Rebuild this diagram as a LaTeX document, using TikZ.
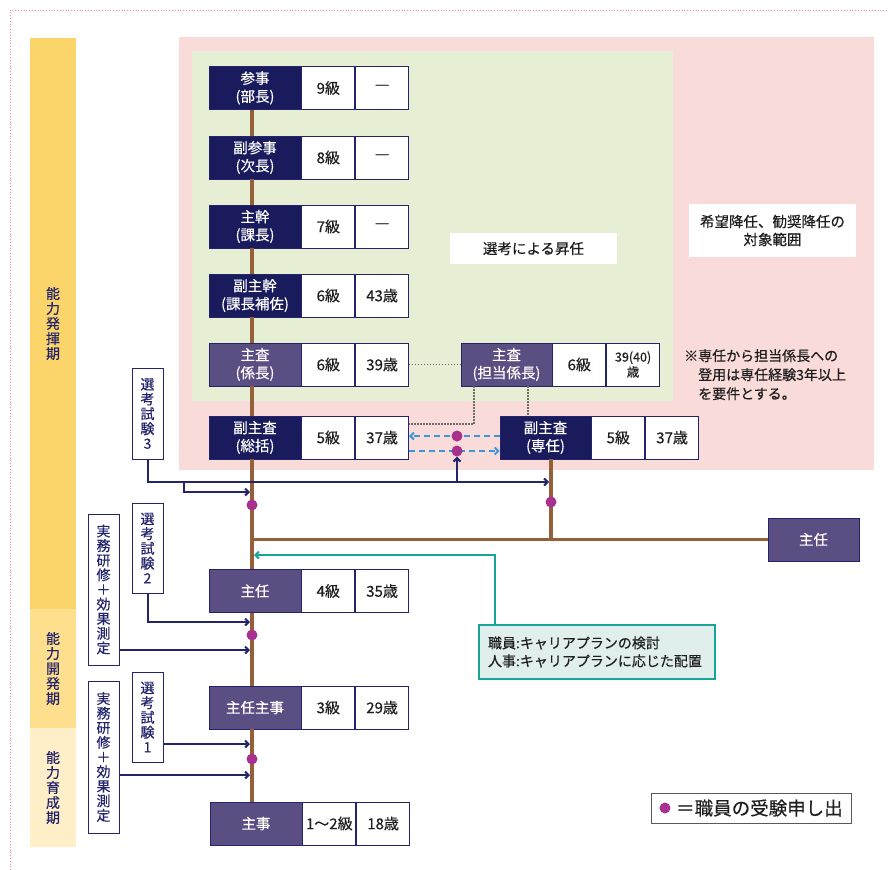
\documentclass[tikz,border=0pt]{standalone}
\usepackage{fontspec}
\setmainfont{Noto Sans CJK JP}[FakeBold=0.4]
\usetikzlibrary{arrows.meta}
\definecolor{navy}{HTML}{1A1B5C}
\definecolor{purp}{HTML}{5A4E82}
\definecolor{linec}{HTML}{23246B}
\definecolor{brn}{HTML}{93603A}
\definecolor{dotc}{HTML}{A8308E}
\definecolor{bluec}{HTML}{3A98D8}
\definecolor{tealc}{HTML}{16A598}
\definecolor{pinkc}{HTML}{F9DBD9}
\definecolor{greenc}{HTML}{E6EFD4}
\definecolor{bandA}{HTML}{FBD46A}
\definecolor{bandB}{HTML}{FDDF8D}
\definecolor{bandC}{HTML}{FEEFC8}
\definecolor{notef}{HTML}{E1EFEC}
\definecolor{txt}{HTML}{1E1E1E}
\definecolor{bordc}{HTML}{F08CA0}
\newcommand\rkrow[6]{%
  \node[#2] (#1t) at (#3) {#4};
  \node[cell,anchor=west] (#1g) at (#1t.east) {#5};
  \node[cell,anchor=west] (#1a) at (#1g.east) {#6};}
\begin{document}
\begin{tikzpicture}[x=1pt,y=-1pt,
  ttl/.style={draw=linec, line width=0.8pt, text=white, minimum width=92, minimum height=43, inner sep=1pt, align=center, font=\fontsize{14.5}{18}\selectfont},
  tn/.style={ttl, fill=navy},
  tp/.style={ttl, fill=purp},
  cell/.style={draw=linec, line width=0.8pt, fill=white, text=txt, minimum width=53, minimum height=43, inner sep=1pt, align=center, font=\fontsize{15}{17}\selectfont},
  vbox/.style={draw=linec, fill=white, line width=0.8pt, text=linec, minimum width=31, inner sep=0pt, align=center, font=\fontsize{14}{14.8}\selectfont},
  band/.style={minimum width=46, inner sep=0pt, text=linec, align=center, font=\fontsize{14}{15}\selectfont},
  lbl/.style={fill=white, inner sep=0pt, text=txt, align=center, font=\fontsize{14.5}{18}\selectfont},
  dot/.style={circle, fill=dotc, minimum size=11, inner sep=0pt},
  brline/.style={draw=brn, line width=3.5pt},
  arr/.style={draw=linec, line width=2pt, -{Straight Barb[length=3.5pt,width=7pt]}},
  darr/.style={draw=bluec, line width=2pt, dash pattern=on 6pt off 4pt, -{Straight Barb[length=3.5pt,width=7pt]}},
  dotl/.style={draw=gray!85!black, line width=1.3pt, dash pattern=on 1.3pt off 1.7pt},
  tarr/.style={draw=tealc, line width=2pt, -{Straight Barb[length=3.5pt,width=7pt]}}
]
\useasboundingbox (0,0) rectangle (889,870);
% frame
\draw[bordc, dotted, line width=0.8pt] (10,870) -- (10,10) -- (889,10);
% bands
\node[band, fill=bandA, minimum height=571] (bA) at (53,323.5) {能\\力\\発\\揮\\期};
\node[band, fill=bandB, minimum height=119] (bB) at (53,668.5) {能\\力\\開\\発\\期};
\node[band, fill=bandC, minimum height=119] (bC) at (53,787.5) {能\\力\\育\\成\\期};
% regions
\fill[pinkc] (179,37) rectangle (874,470);
\fill[greenc] (192,51) rectangle (673,401);
% labels
\node[lbl, minimum width=167, minimum height=31] (lsel) at (533.5,248.5) {選考による昇任};
\node[lbl, minimum width=167, minimum height=53] (lkib) at (772.5,230.5) {希望降任、勧奨降任の\\対象範囲};
\node[anchor=north west, inner sep=0pt, align=left, text=txt, font=\fontsize{14}{19}\selectfont] (lnote) at (684,349) {※専任から担当係長への\\\phantom{※}登用は専任経験3年以上\\\phantom{※}を要件とする。};
% coordinates on lines
\coordinate (mx) at (252,0);
\coordinate (sx) at (551,0);
% rank rows
\rkrow{r9}{tn}{255,88}{参事\\(部長)}{9級}{―}
\rkrow{r8}{tn}{255,157.5}{副参事\\(次長)}{8級}{―}
\rkrow{r7}{tn}{255,226.5}{主幹\\(課長)}{7級}{―}
\rkrow{r6}{tn}{255,295.5}{副主幹\\(課長補佐)}{6級}{43歳}
\rkrow{r5}{tp}{255,364.5}{主査\\(係長)}{6級}{39歳}
\rkrow{r4}{tn}{255,437.5}{副主査\\(総括)}{5級}{37歳}
\rkrow{r3}{tp}{255,591}{主任}{4級}{35歳}
\rkrow{r2}{tp}{255,707.5}{主任主事}{3級}{29歳}
\rkrow{r1}{tp}{256,823.5}{主事}{1～2級}{18歳}
\node[tp, minimum width=91] (tant) at (506.5,364.5) {主査\\(担当係長)};
\node[cell, anchor=west] (tang) at (tant.east) {6級};
\node[cell, anchor=west, font=\fontsize{12.5}{15}\selectfont] (tana) at (tang.east) {39(40)\\歳};
\rkrow{sen}{tn,minimum width=91}{545.5,437.5}{副主査\\(専任)}{5級}{37歳}
\node[tp, minimum width=91] (shr) at (813.5,539.5) {主任};
% brown main line
\foreach \a/\b in {r9/r8,r8/r7,r7/r6,r6/r5,r5/r4,r4/r3,r3/r2,r2/r1}
  \draw[brline] (\a t.south -| mx) -- (\b t.north -| mx);
\draw[brline] (mx |- shr.west) -- (shr.west);
\draw[brline] (sent.south -| sx) -- (sx |- shr.west);
% dotted links
\draw[dotl] (r5a.east) -- (tant.west);
\draw[dotl] ([xshift=-32.5]tant.south) |- (r4a.east |- 0,424);
\draw[dotl] ([xshift=21.5]tant.south) -- ([xshift=21.5]tant.south |- sent.north);
% vertical boxes
\node[vbox, minimum height=91] (s3) at (147.5,413.5) {選\\考\\試\\験\\3};
\node[vbox, minimum height=90] (s2) at (147.5,548) {選\\考\\試\\験\\2};
\node[vbox, minimum height=151, font=\fontsize{14}{14.6}\selectfont] (jm1) at (103.5,589.5) {実\\務\\研\\修\\＋\\効\\果\\測\\定};
\node[vbox, minimum height=90] (s1) at (147.5,717) {選\\考\\試\\験\\1};
\node[vbox, minimum height=152, font=\fontsize{14}{14.6}\selectfont] (jm2) at (103.5,757) {実\\務\\研\\修\\＋\\効\\果\\測\\定};
% dashed blue arrows (under the dots)
\coordinate (y436) at (0,436);
\coordinate (y451) at (0,451);
\draw[darr] (sent.west |- y436) -- (r4a.east |- y436);
\draw[darr] (r4a.east |- y451) -- (sent.west |- y451);
% dots
\node[dot] (d1) at (252,505) {};
\node[dot] (d2) at (551,502) {};
\node[dot] (d3) at (457,436) {};
\node[dot] (d4) at (457,451) {};
\node[dot] (d5) at (252,635) {};
\node[dot] (d6) at (252,759) {};
% navy arrows
\coordinate (e3) at (549,482);
\coordinate (b3) at (184,482);
\coordinate (u3) at (457,482);
\coordinate (m492) at (250,492);
\coordinate (m622) at (250,622);
\coordinate (m650) at (250,650);
\coordinate (m744) at (250,744);
\coordinate (m775) at (250,775);
\draw[arr] (s3.south) |- (e3);
\draw[arr] (b3) |- (m492);
\draw[arr] (u3) -- (d4.south);
\draw[arr] (s2.south) |- (m622);
\draw[arr] (jm1.east |- m650) -- (m650);
\draw[arr] (s1.east |- m744) -- (m744);
\draw[arr] (jm2.east |- m775) -- (m775);
% note box
\node[draw=tealc, line width=2pt, fill=notef, minimum width=236, minimum height=54, text width=218, inner xsep=9pt, inner ysep=0pt, align=left, text=txt, font=\fontsize{14}{18}\selectfont] (nt) at (597,652) {職員:キャリアプランの検討\\人事:キャリアプランに応じた配置};
\coordinate (tl) at (495,0);
\coordinate (m555) at (254,555);
\draw[tarr] (nt.north -| tl) |- (m555);
% legend
\node[draw=gray!70!black, line width=0.9pt, fill=white, minimum width=200, minimum height=30, inner sep=0pt] (lg) at (751,808) {};
\node[dot] (lgd) at (665,808) {};
\node[anchor=west, inner sep=0pt, text=txt, font=\fontsize{18.5}{20}\selectfont] (lgt) at (676,808) {＝職員の受験申し出};
\end{tikzpicture}
\end{document}
